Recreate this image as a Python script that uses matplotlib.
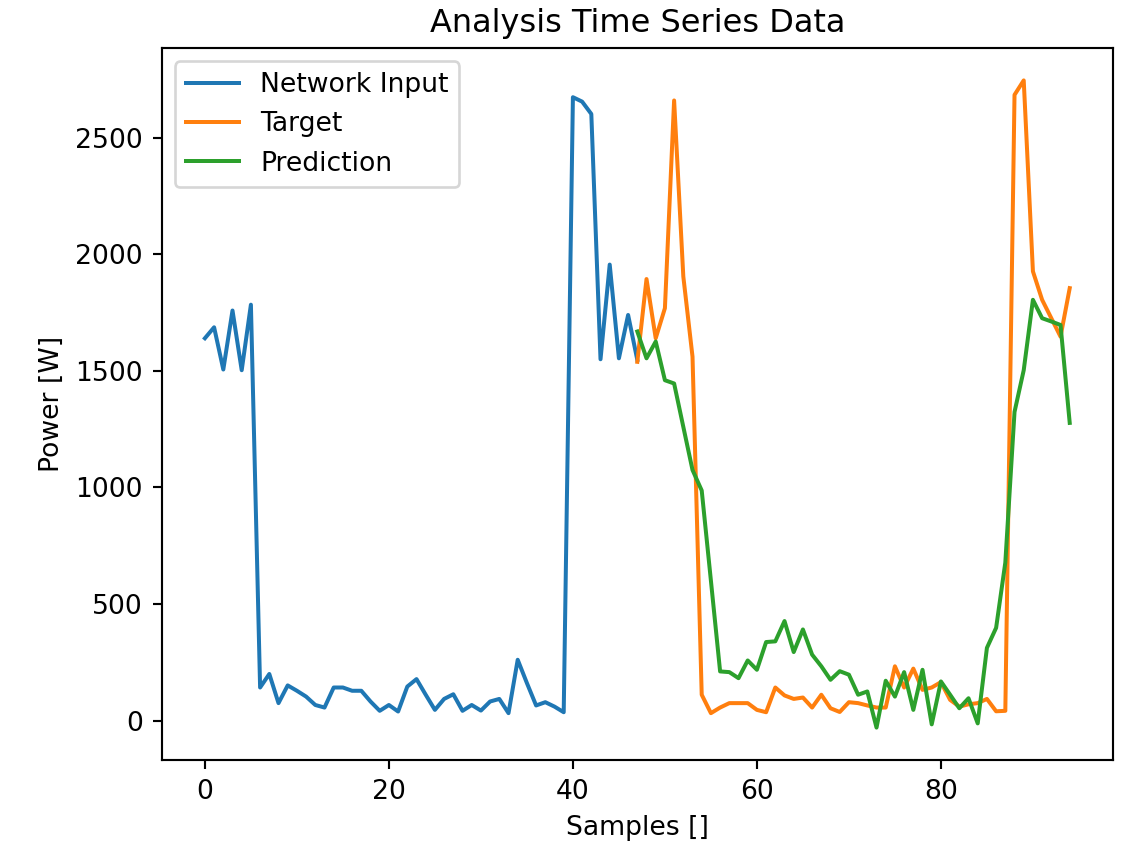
import numpy as np
import matplotlib
matplotlib.use("Agg")
import matplotlib.pyplot as plt

network_input = [1640, 1687, 1506, 1759, 1503, 1784, 142, 200, 75, 151,
                 128, 103, 67, 56, 142, 142, 128, 128, 82, 42,
                 67, 39, 146, 178, 111, 46, 93, 113, 42, 67,
                 43, 82, 93, 32, 261, 161, 65, 79, 60, 36,
                 2674, 2655, 2602, 1550, 1956, 1554, 1740, 1547]

target = [1539, 1894, 1640, 1769, 2660, 1905, 1561, 111, 32, 56,
          75, 75, 75, 46, 36, 142, 108, 93, 99, 56,
          111, 53, 37, 79, 75, 65, 56, 56, 233, 142,
          223, 132, 142, 165, 89, 60, 70, 75, 93, 40,
          42, 2684, 2746, 1927, 1805, 1726, 1647, 1855]

prediction = [1669, 1554, 1626, 1460, 1446, 1260, 1075, 987, 600, 211,
              208, 182, 258, 218, 337, 340, 427, 294, 391, 283,
              233, 175, 212, 197, 111, 125, -30, 171, 103, 208,
              46, 218, -16, 168, 111, 53, 96, -12, 312, 398,
              678, 1324, 1503, 1805, 1726, 1712, 1697, 1277]

input_start = 0
output_start = 47

DPI = 192
fig = plt.figure(figsize=(1125 / DPI, 843 / DPI), dpi=DPI)
ax = fig.add_subplot(111)
fig.subplots_adjust(left=0.1437, right=0.9893, bottom=0.0985, top=0.943)

x_in = np.arange(input_start, input_start + len(network_input))
x_out = np.arange(output_start, output_start + len(target))

ax.plot(x_in, network_input, label="Network Input")
ax.plot(x_out, target, label="Target")
ax.plot(x_out, prediction, label="Prediction")

ax.set_title("Analysis Time Series Data")
ax.set_xlabel("Samples []")
ax.set_ylabel("Power [W]")
ax.legend(loc="upper left")

fig.savefig("out.png", dpi=DPI)
